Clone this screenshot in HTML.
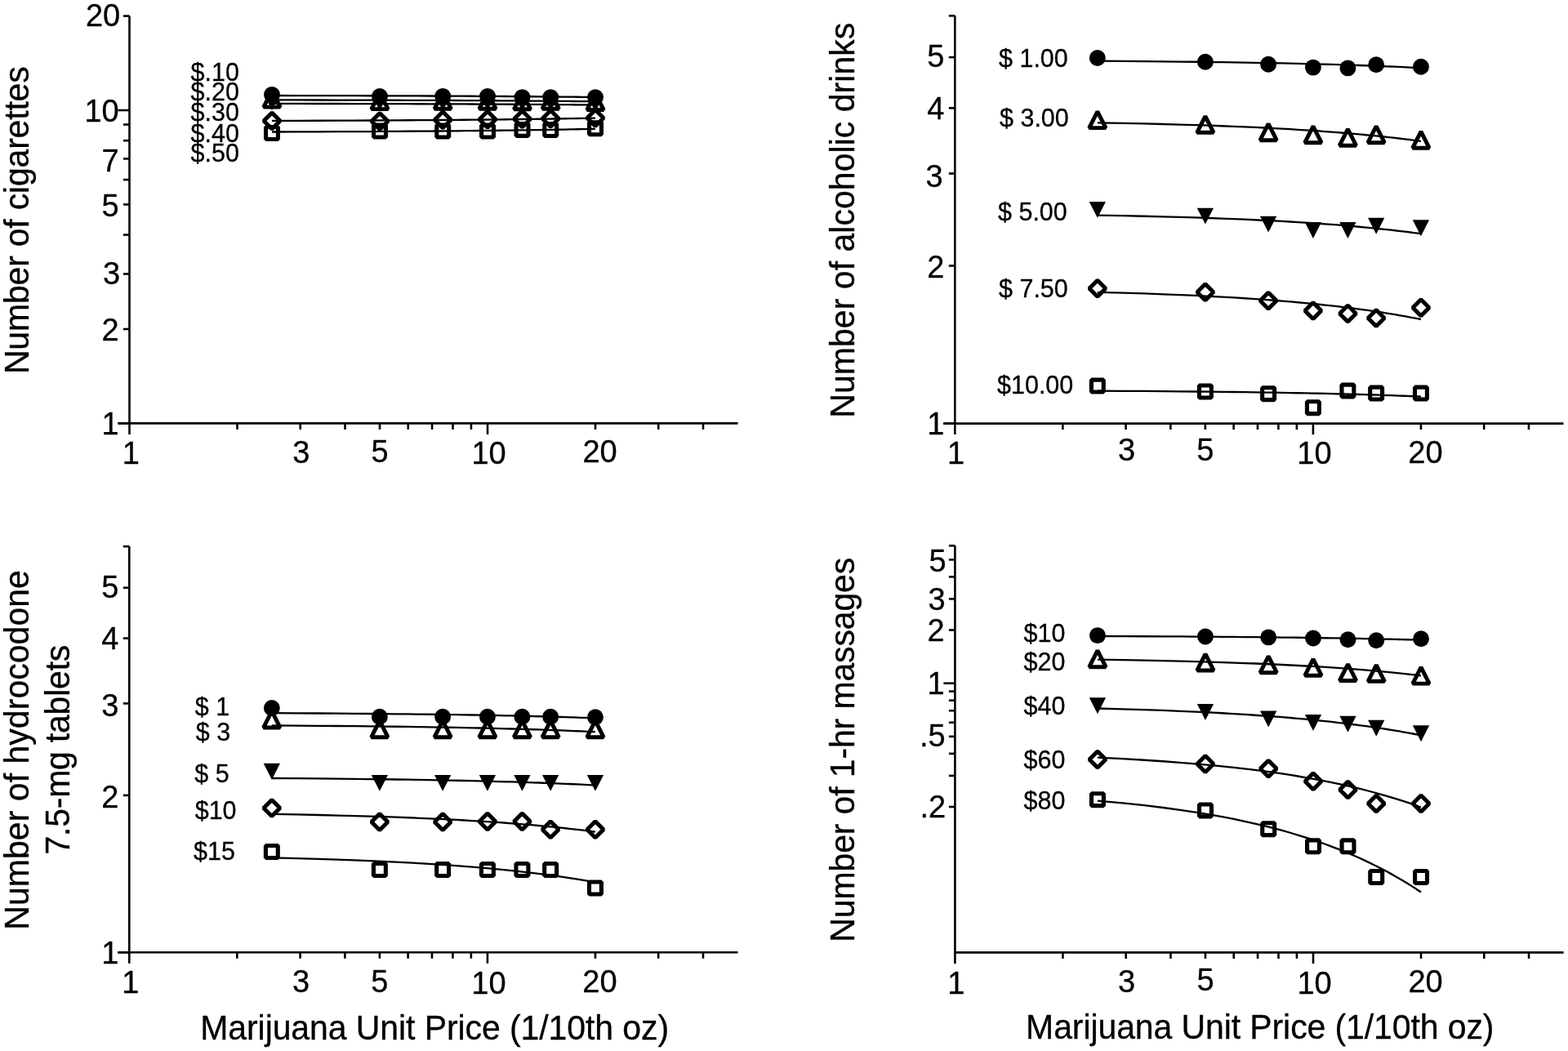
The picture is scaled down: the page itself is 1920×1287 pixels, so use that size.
<!DOCTYPE html>
<html><head><meta charset="utf-8"><title>Marijuana unit price cross-price demand</title>
<style>html,body{margin:0;padding:0;background:#fff;overflow:hidden}svg{display:block}</style>
</head><body>
<svg width="1920" height="1287" viewBox="0 0 1920 1287" font-family="'Liberation Sans', Arial, Helvetica, sans-serif"><g stroke="#000" stroke-width="2.6" fill="none"><line x1="158.5" y1="19.59" x2="158.5" y2="531.9"/><line x1="144.5" y1="518.4" x2="903.5" y2="518.4"/><line x1="290.5" y1="518.4" x2="290.5" y2="525.9"/><line x1="367.72" y1="518.4" x2="367.72" y2="525.9"/><line x1="422.5" y1="518.4" x2="422.5" y2="525.9"/><line x1="465" y1="518.4" x2="465" y2="525.9"/><line x1="499.72" y1="518.4" x2="499.72" y2="525.9"/><line x1="529.08" y1="518.4" x2="529.08" y2="525.9"/><line x1="554.5" y1="518.4" x2="554.5" y2="525.9"/><line x1="576.94" y1="518.4" x2="576.94" y2="525.9"/><line x1="729" y1="518.4" x2="729" y2="525.9"/><line x1="806.22" y1="518.4" x2="806.22" y2="525.9"/><line x1="861" y1="518.4" x2="861" y2="525.9"/><line x1="597" y1="518.4" x2="597" y2="531.9"/><line x1="144.5" y1="518.4" x2="158.5" y2="518.4"/><line x1="151" y1="402.99" x2="158.5" y2="402.99"/><line x1="151" y1="335.47" x2="158.5" y2="335.47"/><line x1="151" y1="287.57" x2="158.5" y2="287.57"/><line x1="151" y1="250.41" x2="158.5" y2="250.41"/><line x1="151" y1="220.06" x2="158.5" y2="220.06"/><line x1="151" y1="194.39" x2="158.5" y2="194.39"/><line x1="151" y1="172.16" x2="158.5" y2="172.16"/><line x1="151" y1="152.54" x2="158.5" y2="152.54"/><line x1="144.5" y1="135" x2="158.5" y2="135"/><line x1="151" y1="19.59" x2="158.5" y2="19.59"/></g>
<g font-size="38" fill="#000" stroke="#000" stroke-width="0.3"><text transform="translate(145.7,532) scale(1,1.04)" text-anchor="end">1</text><text transform="translate(145.7,416.59) scale(1,1.04)" text-anchor="end">2</text><text transform="translate(147.2,347.57) scale(1,1.04)" text-anchor="end">3</text><text transform="translate(145.7,265.31) scale(1,1.04)" text-anchor="end">5</text><text transform="translate(145.7,209.99) scale(1,1.04)" text-anchor="end">7</text><text transform="translate(145.7,149.1) scale(1,1.04)" text-anchor="end">10</text><text transform="translate(147.2,31.94) scale(1,1.04)" text-anchor="end">20</text><text transform="translate(160.3,568.4) scale(1,1.04)" text-anchor="middle">1</text><text transform="translate(368.72,567.4) scale(1,1.04)" text-anchor="middle">3</text><text transform="translate(465,565.9) scale(1,1.04)" text-anchor="middle">5</text><text transform="translate(598.5,568.4) scale(1,1.04)" text-anchor="middle">10</text><text transform="translate(734.5,566.4) scale(1,1.04)" text-anchor="middle">20</text></g>
<g font-size="30.5" fill="#000" stroke="#000" stroke-width="0.3"><text transform="translate(233.5,98.6) scale(1,1.04)" xml:space="preserve">$.10</text><text transform="translate(233.5,122.9) scale(1,1.04)" xml:space="preserve">$.20</text><text transform="translate(233.5,147.6) scale(1,1.04)" xml:space="preserve">$.30</text><text transform="translate(233.5,174) scale(1,1.04)" xml:space="preserve">$.40</text><text transform="translate(233.5,197.8) scale(1,1.04)" xml:space="preserve">$.50</text></g>
<g stroke="#000" stroke-width="2.3" fill="none" stroke-linejoin="round"><polyline points="333,117 363.71,117.05 390.15,117.1 413.36,117.15 434.05,117.2 452.71,117.25 469.7,117.3 485.3,117.35 499.72,117.4 513.12,117.45 525.64,117.5 537.39,117.55 548.46,117.6 558.92,117.65 568.83,117.7 578.25,117.75 587.23,117.8 595.81,117.85 604.01,117.9 611.88,117.95 619.43,118 626.7,118.05 633.69,118.1 640.44,118.15 646.96,118.2 653.27,118.25 659.37,118.3 665.28,118.35 671.02,118.4 676.58,118.45 681.99,118.5 687.25,118.55 692.37,118.6 697.35,118.65 702.21,118.7 706.94,118.75 711.56,118.8 716.08,118.85 720.48,118.9 724.79,118.95 729,119"/><polyline points="333,122.4 363.71,122.45 390.15,122.5 413.36,122.54 434.05,122.59 452.71,122.64 469.7,122.69 485.3,122.73 499.72,122.78 513.12,122.83 525.64,122.88 537.39,122.92 548.46,122.97 558.92,123.02 568.83,123.06 578.25,123.11 587.23,123.16 595.81,123.21 604.01,123.25 611.88,123.3 619.43,123.35 626.7,123.4 633.69,123.45 640.44,123.49 646.96,123.54 653.27,123.59 659.37,123.64 665.28,123.68 671.02,123.73 676.58,123.78 681.99,123.83 687.25,123.87 692.37,123.92 697.35,123.97 702.21,124.02 706.94,124.06 711.56,124.11 716.08,124.16 720.48,124.2 724.79,124.25 729,124.3"/><polyline points="333,126.9 363.71,126.94 390.15,126.98 413.36,127.02 434.05,127.06 452.71,127.1 469.7,127.14 485.3,127.18 499.72,127.22 513.12,127.26 525.64,127.3 537.39,127.34 548.46,127.38 558.92,127.42 568.83,127.46 578.25,127.5 587.23,127.54 595.81,127.58 604.01,127.62 611.88,127.66 619.43,127.7 626.7,127.74 633.69,127.78 640.44,127.82 646.96,127.86 653.27,127.9 659.37,127.94 665.28,127.98 671.02,128.02 676.58,128.06 681.99,128.1 687.25,128.14 692.37,128.18 697.35,128.22 702.21,128.26 706.94,128.3 711.56,128.34 716.08,128.38 720.48,128.42 724.79,128.46 729,128.5"/><polyline points="333,147.9 363.71,147.82 390.15,147.74 413.36,147.65 434.05,147.57 452.71,147.49 469.7,147.41 485.3,147.32 499.72,147.24 513.12,147.16 525.64,147.07 537.39,146.99 548.46,146.91 558.92,146.83 568.83,146.75 578.25,146.66 587.23,146.58 595.81,146.5 604.01,146.41 611.88,146.33 619.43,146.25 626.7,146.17 633.69,146.09 640.44,146 646.96,145.92 653.27,145.84 659.37,145.75 665.28,145.67 671.02,145.59 676.58,145.51 681.99,145.43 687.25,145.34 692.37,145.26 697.35,145.18 702.21,145.09 706.94,145.01 711.56,144.93 716.08,144.85 720.48,144.76 724.79,144.68 729,144.6"/><polyline points="333,161.5 363.71,161.41 390.15,161.31 413.36,161.22 434.05,161.13 452.71,161.04 469.7,160.94 485.3,160.85 499.72,160.76 513.12,160.67 525.64,160.57 537.39,160.48 548.46,160.39 558.92,160.3 568.83,160.21 578.25,160.11 587.23,160.02 595.81,159.93 604.01,159.84 611.88,159.74 619.43,159.65 626.7,159.56 633.69,159.47 640.44,159.37 646.96,159.28 653.27,159.19 659.37,159.09 665.28,159 671.02,158.91 676.58,158.82 681.99,158.73 687.25,158.63 692.37,158.54 697.35,158.45 702.21,158.36 706.94,158.26 711.56,158.17 716.08,158.08 720.48,157.99 724.79,157.89 729,157.8"/></g>
<circle cx="333" cy="115.9" r="9.95" fill="#000"/><circle cx="465" cy="118" r="9.95" fill="#000"/><circle cx="542.21" cy="117.9" r="9.95" fill="#000"/><circle cx="597" cy="117.9" r="9.95" fill="#000"/><circle cx="639.5" cy="119.1" r="9.95" fill="#000"/><circle cx="674.22" cy="119.1" r="9.95" fill="#000"/><circle cx="729" cy="119.1" r="9.95" fill="#000"/><path d="M333,111.11L343.16,131.13H322.84Z" fill="none" stroke="#000" stroke-width="4.93" stroke-linejoin="bevel"/><path d="M465,113.61L475.16,133.63H454.84Z" fill="none" stroke="#000" stroke-width="4.93" stroke-linejoin="bevel"/><path d="M542.21,113.21L552.37,133.23H532.05Z" fill="none" stroke="#000" stroke-width="4.93" stroke-linejoin="bevel"/><path d="M597,113.21L607.16,133.23H586.84Z" fill="none" stroke="#000" stroke-width="4.93" stroke-linejoin="bevel"/><path d="M639.5,113.81L649.66,133.83H629.34Z" fill="none" stroke="#000" stroke-width="4.93" stroke-linejoin="bevel"/><path d="M674.22,113.21L684.38,133.23H664.06Z" fill="none" stroke="#000" stroke-width="4.93" stroke-linejoin="bevel"/><path d="M729,114.41L739.16,134.43H718.84Z" fill="none" stroke="#000" stroke-width="4.93" stroke-linejoin="bevel"/><path d="M322.85,115.05H343.15L333,134.95Z" fill="#000"/><path d="M454.85,115.55H475.15L465,135.45Z" fill="#000"/><path d="M532.06,115.55H552.36L542.21,135.45Z" fill="#000"/><path d="M586.85,115.55H607.15L597,135.45Z" fill="#000"/><path d="M629.35,116.05H649.65L639.5,135.95Z" fill="#000"/><path d="M664.07,116.05H684.37L674.22,135.95Z" fill="#000"/><path d="M718.85,117.05H739.15L729,136.95Z" fill="#000"/><path d="M333,138L343,148L333,158L323,148Z" fill="none" stroke="#000" stroke-width="5" stroke-linejoin="bevel"/><path d="M465,138.6L475,148.6L465,158.6L455,148.6Z" fill="none" stroke="#000" stroke-width="5" stroke-linejoin="bevel"/><path d="M542.21,136.7L552.21,146.7L542.21,156.7L532.21,146.7Z" fill="none" stroke="#000" stroke-width="5" stroke-linejoin="bevel"/><path d="M597,136.2L607,146.2L597,156.2L587,146.2Z" fill="none" stroke="#000" stroke-width="5" stroke-linejoin="bevel"/><path d="M639.5,135.7L649.5,145.7L639.5,155.7L629.5,145.7Z" fill="none" stroke="#000" stroke-width="5" stroke-linejoin="bevel"/><path d="M674.22,135.2L684.22,145.2L674.22,155.2L664.22,145.2Z" fill="none" stroke="#000" stroke-width="5" stroke-linejoin="bevel"/><path d="M729,134.5L739,144.5L729,154.5L719,144.5Z" fill="none" stroke="#000" stroke-width="5" stroke-linejoin="bevel"/><path d="M325.55,155.55H340.45V170.45H325.55Z" fill="none" stroke="#000" stroke-width="5.1" stroke-linejoin="bevel"/><path d="M457.55,153.05H472.45V167.95H457.55Z" fill="none" stroke="#000" stroke-width="5.1" stroke-linejoin="bevel"/><path d="M534.76,153.15H549.66V168.05H534.76Z" fill="none" stroke="#000" stroke-width="5.1" stroke-linejoin="bevel"/><path d="M589.55,153.15H604.45V168.05H589.55Z" fill="none" stroke="#000" stroke-width="5.1" stroke-linejoin="bevel"/><path d="M632.05,151.45H646.95V166.35H632.05Z" fill="none" stroke="#000" stroke-width="5.1" stroke-linejoin="bevel"/><path d="M666.77,151.55H681.67V166.45H666.77Z" fill="none" stroke="#000" stroke-width="5.1" stroke-linejoin="bevel"/><path d="M721.55,149.85H736.45V164.75H721.55Z" fill="none" stroke="#000" stroke-width="5.1" stroke-linejoin="bevel"/>
<g stroke="#000" stroke-width="2.6" fill="none"><line x1="1169.3" y1="19.34" x2="1169.3" y2="532.1"/><line x1="1155.3" y1="518.6" x2="1914.47" y2="518.6"/><line x1="1301.33" y1="518.6" x2="1301.33" y2="526.1"/><line x1="1378.57" y1="518.6" x2="1378.57" y2="526.1"/><line x1="1433.36" y1="518.6" x2="1433.36" y2="526.1"/><line x1="1475.87" y1="518.6" x2="1475.87" y2="526.1"/><line x1="1510.6" y1="518.6" x2="1510.6" y2="526.1"/><line x1="1539.96" y1="518.6" x2="1539.96" y2="526.1"/><line x1="1565.4" y1="518.6" x2="1565.4" y2="526.1"/><line x1="1587.83" y1="518.6" x2="1587.83" y2="526.1"/><line x1="1739.93" y1="518.6" x2="1739.93" y2="526.1"/><line x1="1817.17" y1="518.6" x2="1817.17" y2="526.1"/><line x1="1871.96" y1="518.6" x2="1871.96" y2="526.1"/><line x1="1607.9" y1="518.6" x2="1607.9" y2="532.1"/><line x1="1155.3" y1="518.6" x2="1169.3" y2="518.6"/><line x1="1161.8" y1="325.46" x2="1169.3" y2="325.46"/><line x1="1161.8" y1="212.48" x2="1169.3" y2="212.48"/><line x1="1161.8" y1="132.32" x2="1169.3" y2="132.32"/><line x1="1161.8" y1="70.14" x2="1169.3" y2="70.14"/><line x1="1161.8" y1="19.34" x2="1169.3" y2="19.34"/></g>
<g font-size="38" fill="#000" stroke="#000" stroke-width="0.3"><text transform="translate(1156.5,532.2) scale(1,1.04)" text-anchor="end">1</text><text transform="translate(1156.5,340.36) scale(1,1.04)" text-anchor="end">2</text><text transform="translate(1154.7,228.78) scale(1,1.04)" text-anchor="end">3</text><text transform="translate(1156.5,145.92) scale(1,1.04)" text-anchor="end">4</text><text transform="translate(1156.5,82.24) scale(1,1.04)" text-anchor="end">5</text><text transform="translate(1170.6,567.6) scale(1,1.04)" text-anchor="middle">1</text><text transform="translate(1379.57,563.9) scale(1,1.04)" text-anchor="middle">3</text><text transform="translate(1475.87,564) scale(1,1.04)" text-anchor="middle">5</text><text transform="translate(1609.4,567.6) scale(1,1.04)" text-anchor="middle">10</text><text transform="translate(1745.43,567.3) scale(1,1.04)" text-anchor="middle">20</text></g>
<g font-size="30.5" fill="#000" stroke="#000" stroke-width="0.3"><text transform="translate(1223,81.7) scale(1,1.04)" xml:space="preserve">$ 1.00</text><text transform="translate(1224,155.3) scale(1,1.04)" xml:space="preserve">$ 3.00</text><text transform="translate(1222,269.5) scale(1,1.04)" xml:space="preserve">$ 5.00</text><text transform="translate(1223,363.5) scale(1,1.04)" xml:space="preserve">$ 7.50</text><text transform="translate(1221,482.2) scale(1,1.04)" xml:space="preserve">$10.00</text></g>
<g stroke="#000" stroke-width="2.3" fill="none" stroke-linejoin="round"><polyline points="1343.84,74.7 1374.56,74.91 1401,75.12 1424.22,75.34 1444.91,75.55 1463.57,75.76 1480.57,75.98 1496.18,76.19 1510.6,76.4 1524,76.61 1536.53,76.83 1548.28,77.04 1559.35,77.25 1569.81,77.46 1579.72,77.67 1589.15,77.89 1598.13,78.1 1606.71,78.31 1614.91,78.53 1622.78,78.74 1630.34,78.95 1637.6,79.16 1644.6,79.38 1651.35,79.59 1657.88,79.8 1664.18,80.01 1670.28,80.23 1676.2,80.44 1681.93,80.65 1687.5,80.86 1692.91,81.08 1698.17,81.29 1703.29,81.5 1708.27,81.71 1713.13,81.92 1717.87,82.14 1722.49,82.35 1727,82.56 1731.41,82.78 1735.72,82.99 1739.93,83.2"/><polyline points="1343.84,150.3 1374.56,150.87 1401,151.43 1424.22,152 1444.91,152.56 1463.57,153.12 1480.57,153.69 1496.18,154.26 1510.6,154.82 1524,155.39 1536.53,155.95 1548.28,156.52 1559.35,157.08 1569.81,157.65 1579.72,158.21 1589.15,158.78 1598.13,159.34 1606.71,159.91 1614.91,160.47 1622.78,161.03 1630.34,161.6 1637.6,162.17 1644.6,162.73 1651.35,163.3 1657.88,163.86 1664.18,164.43 1670.28,164.99 1676.2,165.56 1681.93,166.12 1687.5,166.69 1692.91,167.25 1698.17,167.81 1703.29,168.38 1708.27,168.94 1713.13,169.51 1717.87,170.08 1722.49,170.64 1727,171.21 1731.41,171.77 1735.72,172.34 1739.93,172.9"/><polyline points="1343.84,263.6 1374.56,264.17 1401,264.73 1424.22,265.3 1444.91,265.86 1463.57,266.43 1480.57,266.99 1496.18,267.56 1510.6,268.12 1524,268.69 1536.53,269.25 1548.28,269.81 1559.35,270.38 1569.81,270.94 1579.72,271.51 1589.15,272.07 1598.13,272.64 1606.71,273.2 1614.91,273.77 1622.78,274.33 1630.34,274.9 1637.6,275.47 1644.6,276.03 1651.35,276.6 1657.88,277.16 1664.18,277.73 1670.28,278.29 1676.2,278.86 1681.93,279.42 1687.5,279.99 1692.91,280.55 1698.17,281.12 1703.29,281.68 1708.27,282.25 1713.13,282.81 1717.87,283.38 1722.49,283.94 1727,284.5 1731.41,285.07 1735.72,285.63 1739.93,286.2"/><polyline points="1343.84,357.8 1374.56,358.63 1401,359.46 1424.22,360.29 1444.91,361.12 1463.57,361.95 1480.57,362.78 1496.18,363.61 1510.6,364.44 1524,365.27 1536.53,366.1 1548.28,366.93 1559.35,367.76 1569.81,368.59 1579.72,369.42 1589.15,370.25 1598.13,371.08 1606.71,371.91 1614.91,372.74 1622.78,373.57 1630.34,374.4 1637.6,375.23 1644.6,376.06 1651.35,376.89 1657.88,377.72 1664.18,378.55 1670.28,379.38 1676.2,380.21 1681.93,381.04 1687.5,381.87 1692.91,382.7 1698.17,383.53 1703.29,384.36 1708.27,385.19 1713.13,386.02 1717.87,386.85 1722.49,387.68 1727,388.51 1731.41,389.34 1735.72,390.17 1739.93,391"/><polyline points="1343.84,478.6 1374.56,478.78 1401,478.95 1424.22,479.12 1444.91,479.3 1463.57,479.48 1480.57,479.65 1496.18,479.83 1510.6,480 1524,480.18 1536.53,480.35 1548.28,480.53 1559.35,480.7 1569.81,480.88 1579.72,481.05 1589.15,481.23 1598.13,481.4 1606.71,481.58 1614.91,481.75 1622.78,481.93 1630.34,482.1 1637.6,482.28 1644.6,482.45 1651.35,482.62 1657.88,482.8 1664.18,482.98 1670.28,483.15 1676.2,483.33 1681.93,483.5 1687.5,483.68 1692.91,483.85 1698.17,484.03 1703.29,484.2 1708.27,484.38 1713.13,484.55 1717.87,484.73 1722.49,484.9 1727,485.08 1731.41,485.25 1735.72,485.43 1739.93,485.6"/></g>
<circle cx="1343.84" cy="71" r="9.95" fill="#000"/><circle cx="1475.87" cy="75.8" r="9.95" fill="#000"/><circle cx="1553.1" cy="78.8" r="9.95" fill="#000"/><circle cx="1607.9" cy="82.6" r="9.95" fill="#000"/><circle cx="1650.4" cy="83.4" r="9.95" fill="#000"/><circle cx="1685.13" cy="79.3" r="9.95" fill="#000"/><circle cx="1739.93" cy="81.8" r="9.95" fill="#000"/><path d="M1343.84,136.61L1354,156.63H1333.68Z" fill="none" stroke="#000" stroke-width="4.93" stroke-linejoin="bevel"/><path d="M1475.87,142.31L1486.03,162.33H1465.71Z" fill="none" stroke="#000" stroke-width="4.93" stroke-linejoin="bevel"/><path d="M1553.1,151.71L1563.26,171.73H1542.94Z" fill="none" stroke="#000" stroke-width="4.93" stroke-linejoin="bevel"/><path d="M1607.9,154.71L1618.06,174.73H1597.74Z" fill="none" stroke="#000" stroke-width="4.93" stroke-linejoin="bevel"/><path d="M1650.4,158.21L1660.56,178.23H1640.24Z" fill="none" stroke="#000" stroke-width="4.93" stroke-linejoin="bevel"/><path d="M1685.13,154.71L1695.29,174.73H1674.97Z" fill="none" stroke="#000" stroke-width="4.93" stroke-linejoin="bevel"/><path d="M1739.93,161.21L1750.09,181.23H1729.77Z" fill="none" stroke="#000" stroke-width="4.93" stroke-linejoin="bevel"/><path d="M1333.69,246.95H1353.99L1343.84,266.85Z" fill="#000"/><path d="M1465.72,254.65H1486.02L1475.87,274.55Z" fill="#000"/><path d="M1542.95,264.65H1563.25L1553.1,284.55Z" fill="#000"/><path d="M1597.75,272.05H1618.05L1607.9,291.95Z" fill="#000"/><path d="M1640.25,272.05H1660.55L1650.4,291.95Z" fill="#000"/><path d="M1674.98,266.75H1695.28L1685.13,286.65Z" fill="#000"/><path d="M1729.78,269.35H1750.08L1739.93,289.25Z" fill="#000"/><path d="M1343.84,343.2L1353.84,353.2L1343.84,363.2L1333.84,353.2Z" fill="none" stroke="#000" stroke-width="5" stroke-linejoin="bevel"/><path d="M1475.87,347.8L1485.87,357.8L1475.87,367.8L1465.87,357.8Z" fill="none" stroke="#000" stroke-width="5" stroke-linejoin="bevel"/><path d="M1553.1,358.3L1563.1,368.3L1553.1,378.3L1543.1,368.3Z" fill="none" stroke="#000" stroke-width="5" stroke-linejoin="bevel"/><path d="M1607.9,370.4L1617.9,380.4L1607.9,390.4L1597.9,380.4Z" fill="none" stroke="#000" stroke-width="5" stroke-linejoin="bevel"/><path d="M1650.4,374L1660.4,384L1650.4,394L1640.4,384Z" fill="none" stroke="#000" stroke-width="5" stroke-linejoin="bevel"/><path d="M1685.13,379.5L1695.13,389.5L1685.13,399.5L1675.13,389.5Z" fill="none" stroke="#000" stroke-width="5" stroke-linejoin="bevel"/><path d="M1739.93,366.8L1749.93,376.8L1739.93,386.8L1729.93,376.8Z" fill="none" stroke="#000" stroke-width="5" stroke-linejoin="bevel"/><path d="M1336.39,465.15H1351.29V480.05H1336.39Z" fill="none" stroke="#000" stroke-width="5.1" stroke-linejoin="bevel"/><path d="M1468.42,472.05H1483.32V486.95H1468.42Z" fill="none" stroke="#000" stroke-width="5.1" stroke-linejoin="bevel"/><path d="M1545.65,474.75H1560.55V489.65H1545.65Z" fill="none" stroke="#000" stroke-width="5.1" stroke-linejoin="bevel"/><path d="M1600.45,491.75H1615.35V506.65H1600.45Z" fill="none" stroke="#000" stroke-width="5.1" stroke-linejoin="bevel"/><path d="M1642.95,471.15H1657.85V486.05H1642.95Z" fill="none" stroke="#000" stroke-width="5.1" stroke-linejoin="bevel"/><path d="M1677.68,474.15H1692.58V489.05H1677.68Z" fill="none" stroke="#000" stroke-width="5.1" stroke-linejoin="bevel"/><path d="M1732.48,474.15H1747.38V489.05H1732.48Z" fill="none" stroke="#000" stroke-width="5.1" stroke-linejoin="bevel"/>
<g stroke="#000" stroke-width="2.6" fill="none"><line x1="158.3" y1="669.12" x2="158.3" y2="1179.7"/><line x1="144.3" y1="1166.2" x2="903.47" y2="1166.2"/><line x1="290.33" y1="1166.2" x2="290.33" y2="1173.7"/><line x1="367.57" y1="1166.2" x2="367.57" y2="1173.7"/><line x1="422.36" y1="1166.2" x2="422.36" y2="1173.7"/><line x1="464.87" y1="1166.2" x2="464.87" y2="1173.7"/><line x1="499.6" y1="1166.2" x2="499.6" y2="1173.7"/><line x1="528.96" y1="1166.2" x2="528.96" y2="1173.7"/><line x1="554.4" y1="1166.2" x2="554.4" y2="1173.7"/><line x1="576.83" y1="1166.2" x2="576.83" y2="1173.7"/><line x1="728.93" y1="1166.2" x2="728.93" y2="1173.7"/><line x1="806.17" y1="1166.2" x2="806.17" y2="1173.7"/><line x1="860.96" y1="1166.2" x2="860.96" y2="1173.7"/><line x1="596.9" y1="1166.2" x2="596.9" y2="1179.7"/><line x1="144.3" y1="1166.2" x2="158.3" y2="1166.2"/><line x1="150.8" y1="973.9" x2="158.3" y2="973.9"/><line x1="150.8" y1="861.41" x2="158.3" y2="861.41"/><line x1="150.8" y1="781.6" x2="158.3" y2="781.6"/><line x1="150.8" y1="719.7" x2="158.3" y2="719.7"/><line x1="150.8" y1="669.12" x2="158.3" y2="669.12"/></g>
<g font-size="38" fill="#000" stroke="#000" stroke-width="0.3"><text transform="translate(145.5,1179.8) scale(1,1.04)" text-anchor="end">1</text><text transform="translate(145.5,988.5) scale(1,1.04)" text-anchor="end">2</text><text transform="translate(145.5,877.01) scale(1,1.04)" text-anchor="end">3</text><text transform="translate(145.5,795.2) scale(1,1.04)" text-anchor="end">4</text><text transform="translate(145.5,731.8) scale(1,1.04)" text-anchor="end">5</text><text transform="translate(159.8,1216.2) scale(1,1.04)" text-anchor="middle">1</text><text transform="translate(368.57,1215.2) scale(1,1.04)" text-anchor="middle">3</text><text transform="translate(464.87,1215.2) scale(1,1.04)" text-anchor="middle">5</text><text transform="translate(598.4,1217.2) scale(1,1.04)" text-anchor="middle">10</text><text transform="translate(734.43,1215.2) scale(1,1.04)" text-anchor="middle">20</text></g>
<g font-size="30.5" fill="#000" stroke="#000" stroke-width="0.3"><text transform="translate(238.7,876.2) scale(1,1.04)" xml:space="preserve">$ 1</text><text transform="translate(239.8,907.3) scale(1,1.04)" xml:space="preserve">$ 3</text><text transform="translate(238.2,958.3) scale(1,1.04)" xml:space="preserve">$ 5</text><text transform="translate(238.7,1003) scale(1,1.04)" xml:space="preserve">$10</text><text transform="translate(237,1053) scale(1,1.04)" xml:space="preserve">$15</text></g>
<g stroke="#000" stroke-width="2.3" fill="none" stroke-linejoin="round"><polyline points="332.84,873.2 363.56,873.36 390,873.51 413.22,873.67 433.91,873.82 452.57,873.98 469.57,874.13 485.18,874.29 499.6,874.44 513,874.6 525.53,874.75 537.28,874.9 548.35,875.06 558.81,875.22 568.72,875.37 578.15,875.52 587.13,875.68 595.71,875.84 603.91,875.99 611.78,876.14 619.34,876.3 626.6,876.46 633.6,876.61 640.35,876.76 646.88,876.92 653.18,877.08 659.28,877.23 665.2,877.38 670.93,877.54 676.5,877.7 681.91,877.85 687.17,878 692.29,878.16 697.27,878.31 702.13,878.47 706.87,878.62 711.49,878.78 716,878.93 720.41,879.09 724.72,879.25 728.93,879.4"/><polyline points="332.84,888.4 363.56,888.6 390,888.79 413.22,888.99 433.91,889.18 452.57,889.38 469.57,889.57 485.18,889.76 499.6,889.96 513,890.15 525.53,890.35 537.28,890.54 548.35,890.74 558.81,890.93 568.72,891.13 578.15,891.33 587.13,891.52 595.71,891.72 603.91,891.91 611.78,892.11 619.34,892.3 626.6,892.5 633.6,892.69 640.35,892.88 646.88,893.08 653.18,893.27 659.28,893.47 665.2,893.67 670.93,893.86 676.5,894.06 681.91,894.25 687.17,894.45 692.29,894.64 697.27,894.84 702.13,895.03 706.87,895.23 711.49,895.42 716,895.62 720.41,895.81 724.72,896 728.93,896.2"/><polyline points="332.84,953 363.56,953.21 390,953.42 413.22,953.64 433.91,953.85 452.57,954.06 469.57,954.27 485.18,954.49 499.6,954.7 513,954.91 525.53,955.12 537.28,955.34 548.35,955.55 558.81,955.76 568.72,955.98 578.15,956.19 587.13,956.4 595.71,956.61 603.91,956.83 611.78,957.04 619.34,957.25 626.6,957.46 633.6,957.67 640.35,957.89 646.88,958.1 653.18,958.31 659.28,958.52 665.2,958.74 670.93,958.95 676.5,959.16 681.91,959.38 687.17,959.59 692.29,959.8 697.27,960.01 702.13,960.23 706.87,960.44 711.49,960.65 716,960.86 720.41,961.08 724.72,961.29 728.93,961.5"/><polyline points="332.84,996.9 363.56,997.44 390,997.99 413.22,998.53 433.91,999.07 452.57,999.61 469.57,1000.15 485.18,1000.7 499.6,1001.24 513,1001.78 525.53,1002.33 537.28,1002.87 548.35,1003.41 558.81,1003.95 568.72,1004.5 578.15,1005.04 587.13,1005.58 595.71,1006.12 603.91,1006.66 611.78,1007.21 619.34,1007.75 626.6,1008.29 633.6,1008.84 640.35,1009.38 646.88,1009.92 653.18,1010.46 659.28,1011 665.2,1011.55 670.93,1012.09 676.5,1012.63 681.91,1013.17 687.17,1013.72 692.29,1014.26 697.27,1014.8 702.13,1015.35 706.87,1015.89 711.49,1016.43 716,1016.97 720.41,1017.51 724.72,1018.06 728.93,1018.6"/><polyline points="332.84,1050.3 363.56,1051.05 390,1051.81 413.22,1052.56 433.91,1053.31 452.57,1054.06 469.57,1054.82 485.18,1055.57 499.6,1056.32 513,1057.07 525.53,1057.83 537.28,1058.58 548.35,1059.33 558.81,1060.08 568.72,1060.84 578.15,1061.59 587.13,1062.34 595.71,1063.09 603.91,1063.85 611.78,1064.6 619.34,1065.35 626.6,1066.1 633.6,1066.86 640.35,1067.61 646.88,1068.36 653.18,1069.11 659.28,1069.87 665.2,1070.62 670.93,1071.37 676.5,1072.12 681.91,1072.88 687.17,1073.63 692.29,1074.38 697.27,1075.13 702.13,1075.88 706.87,1076.64 711.49,1077.39 716,1078.14 720.41,1078.89 724.72,1079.65 728.93,1080.4"/></g>
<circle cx="332.84" cy="867" r="9.95" fill="#000"/><circle cx="464.87" cy="877.7" r="9.95" fill="#000"/><circle cx="542.1" cy="877.7" r="9.95" fill="#000"/><circle cx="596.9" cy="877.7" r="9.95" fill="#000"/><circle cx="639.4" cy="877.7" r="9.95" fill="#000"/><circle cx="674.13" cy="877.7" r="9.95" fill="#000"/><circle cx="728.93" cy="878.3" r="9.95" fill="#000"/><path d="M332.84,870.91L343,890.93H322.68Z" fill="none" stroke="#000" stroke-width="4.93" stroke-linejoin="bevel"/><path d="M464.87,882.71L475.03,902.73H454.71Z" fill="none" stroke="#000" stroke-width="4.93" stroke-linejoin="bevel"/><path d="M542.1,882.71L552.26,902.73H531.94Z" fill="none" stroke="#000" stroke-width="4.93" stroke-linejoin="bevel"/><path d="M596.9,882.71L607.06,902.73H586.74Z" fill="none" stroke="#000" stroke-width="4.93" stroke-linejoin="bevel"/><path d="M639.4,882.71L649.56,902.73H629.24Z" fill="none" stroke="#000" stroke-width="4.93" stroke-linejoin="bevel"/><path d="M674.13,882.71L684.29,902.73H663.97Z" fill="none" stroke="#000" stroke-width="4.93" stroke-linejoin="bevel"/><path d="M728.93,882.71L739.09,902.73H718.77Z" fill="none" stroke="#000" stroke-width="4.93" stroke-linejoin="bevel"/><path d="M322.69,934.75H342.99L332.84,954.65Z" fill="#000"/><path d="M454.72,948.95H475.02L464.87,968.85Z" fill="#000"/><path d="M531.95,948.95H552.25L542.1,968.85Z" fill="#000"/><path d="M586.75,948.95H607.05L596.9,968.85Z" fill="#000"/><path d="M629.25,948.95H649.55L639.4,968.85Z" fill="#000"/><path d="M663.98,948.95H684.28L674.13,968.85Z" fill="#000"/><path d="M718.78,948.95H739.08L728.93,968.85Z" fill="#000"/><path d="M332.84,979.6L342.84,989.6L332.84,999.6L322.84,989.6Z" fill="none" stroke="#000" stroke-width="5" stroke-linejoin="bevel"/><path d="M464.87,996.5L474.87,1006.5L464.87,1016.5L454.87,1006.5Z" fill="none" stroke="#000" stroke-width="5" stroke-linejoin="bevel"/><path d="M542.1,996.5L552.1,1006.5L542.1,1016.5L532.1,1006.5Z" fill="none" stroke="#000" stroke-width="5" stroke-linejoin="bevel"/><path d="M596.9,995.9L606.9,1005.9L596.9,1015.9L586.9,1005.9Z" fill="none" stroke="#000" stroke-width="5" stroke-linejoin="bevel"/><path d="M639.4,995.9L649.4,1005.9L639.4,1015.9L629.4,1005.9Z" fill="none" stroke="#000" stroke-width="5" stroke-linejoin="bevel"/><path d="M674.13,1005.8L684.13,1015.8L674.13,1025.8L664.13,1015.8Z" fill="none" stroke="#000" stroke-width="5" stroke-linejoin="bevel"/><path d="M728.93,1005.8L738.93,1015.8L728.93,1025.8L718.93,1015.8Z" fill="none" stroke="#000" stroke-width="5" stroke-linejoin="bevel"/><path d="M325.39,1035.55H340.29V1050.45H325.39Z" fill="none" stroke="#000" stroke-width="5.1" stroke-linejoin="bevel"/><path d="M457.42,1057.55H472.32V1072.45H457.42Z" fill="none" stroke="#000" stroke-width="5.1" stroke-linejoin="bevel"/><path d="M534.65,1057.55H549.55V1072.45H534.65Z" fill="none" stroke="#000" stroke-width="5.1" stroke-linejoin="bevel"/><path d="M589.45,1057.55H604.35V1072.45H589.45Z" fill="none" stroke="#000" stroke-width="5.1" stroke-linejoin="bevel"/><path d="M631.95,1057.55H646.85V1072.45H631.95Z" fill="none" stroke="#000" stroke-width="5.1" stroke-linejoin="bevel"/><path d="M666.68,1057.55H681.58V1072.45H666.68Z" fill="none" stroke="#000" stroke-width="5.1" stroke-linejoin="bevel"/><path d="M721.48,1080.05H736.38V1094.95H721.48Z" fill="none" stroke="#000" stroke-width="5.1" stroke-linejoin="bevel"/>
<g stroke="#000" stroke-width="2.6" fill="none"><line x1="1169.4" y1="668.23" x2="1169.4" y2="1179.9"/><line x1="1169.4" y1="1166.4" x2="1914.57" y2="1166.4"/><line x1="1301.43" y1="1166.4" x2="1301.43" y2="1173.9"/><line x1="1378.67" y1="1166.4" x2="1378.67" y2="1173.9"/><line x1="1433.46" y1="1166.4" x2="1433.46" y2="1173.9"/><line x1="1475.97" y1="1166.4" x2="1475.97" y2="1173.9"/><line x1="1510.7" y1="1166.4" x2="1510.7" y2="1173.9"/><line x1="1540.06" y1="1166.4" x2="1540.06" y2="1173.9"/><line x1="1565.5" y1="1166.4" x2="1565.5" y2="1173.9"/><line x1="1587.93" y1="1166.4" x2="1587.93" y2="1173.9"/><line x1="1740.03" y1="1166.4" x2="1740.03" y2="1173.9"/><line x1="1817.27" y1="1166.4" x2="1817.27" y2="1173.9"/><line x1="1872.06" y1="1166.4" x2="1872.06" y2="1173.9"/><line x1="1608" y1="1166.4" x2="1608" y2="1179.9"/><line x1="1161.9" y1="988.02" x2="1169.4" y2="988.02"/><line x1="1161.9" y1="949.9" x2="1169.4" y2="949.9"/><line x1="1161.9" y1="922.85" x2="1169.4" y2="922.85"/><line x1="1161.9" y1="901.87" x2="1169.4" y2="901.87"/><line x1="1161.9" y1="884.73" x2="1169.4" y2="884.73"/><line x1="1161.9" y1="870.23" x2="1169.4" y2="870.23"/><line x1="1161.9" y1="857.68" x2="1169.4" y2="857.68"/><line x1="1161.9" y1="846.6" x2="1169.4" y2="846.6"/><line x1="1155.4" y1="836.7" x2="1169.4" y2="836.7"/><line x1="1161.9" y1="771.52" x2="1169.4" y2="771.52"/><line x1="1161.9" y1="733.4" x2="1169.4" y2="733.4"/><line x1="1161.9" y1="706.35" x2="1169.4" y2="706.35"/><line x1="1161.9" y1="685.37" x2="1169.4" y2="685.37"/><line x1="1161.9" y1="668.23" x2="1169.4" y2="668.23"/></g>
<g font-size="38" fill="#000" stroke="#000" stroke-width="0.3"><text transform="translate(1158.1,1000.62) scale(1,1.04)" text-anchor="end">.2</text><text transform="translate(1157.6,914.47) scale(1,1.04)" text-anchor="end">.5</text><text transform="translate(1156.6,850.3) scale(1,1.04)" text-anchor="end">1</text><text transform="translate(1156.6,785.12) scale(1,1.04)" text-anchor="end">2</text><text transform="translate(1157.6,747) scale(1,1.04)" text-anchor="end">3</text><text transform="translate(1158.6,700.47) scale(1,1.04)" text-anchor="end">5</text><text transform="translate(1170.7,1216.9) scale(1,1.04)" text-anchor="middle">1</text><text transform="translate(1379.67,1215.4) scale(1,1.04)" text-anchor="middle">3</text><text transform="translate(1475.97,1213.4) scale(1,1.04)" text-anchor="middle">5</text><text transform="translate(1609.5,1217.1) scale(1,1.04)" text-anchor="middle">10</text><text transform="translate(1745.53,1215.4) scale(1,1.04)" text-anchor="middle">20</text></g>
<g font-size="30.5" fill="#000" stroke="#000" stroke-width="0.3"><text transform="translate(1253.5,786) scale(1,1.04)" xml:space="preserve">$10</text><text transform="translate(1253.5,820.7) scale(1,1.04)" xml:space="preserve">$20</text><text transform="translate(1253.5,875.3) scale(1,1.04)" xml:space="preserve">$40</text><text transform="translate(1253.5,941.2) scale(1,1.04)" xml:space="preserve">$60</text><text transform="translate(1253.5,991.4) scale(1,1.04)" xml:space="preserve">$80</text></g>
<g stroke="#000" stroke-width="2.3" fill="none" stroke-linejoin="round"><polyline points="1343.94,779 1374.66,779.12 1401.1,779.24 1424.32,779.35 1445.01,779.47 1463.67,779.59 1480.67,779.71 1496.28,779.82 1510.7,779.94 1524.1,780.06 1536.63,780.17 1548.38,780.29 1559.45,780.41 1569.91,780.53 1579.82,780.64 1589.25,780.76 1598.23,780.88 1606.81,781 1615.01,781.12 1622.88,781.23 1630.44,781.35 1637.7,781.47 1644.7,781.59 1651.45,781.7 1657.98,781.82 1664.28,781.94 1670.38,782.06 1676.3,782.17 1682.03,782.29 1687.6,782.41 1693.01,782.53 1698.27,782.64 1703.39,782.76 1708.37,782.88 1713.23,783 1717.97,783.11 1722.59,783.23 1727.1,783.35 1731.51,783.47 1735.82,783.58 1740.03,783.7"/><polyline points="1343.94,807.6 1374.66,808.09 1401.1,808.59 1424.32,809.08 1445.01,809.57 1463.67,810.06 1480.67,810.56 1496.28,811.05 1510.7,811.54 1524.1,812.03 1536.63,812.52 1548.38,813.02 1559.45,813.51 1569.91,814 1579.82,814.5 1589.25,814.99 1598.23,815.48 1606.81,815.97 1615.01,816.47 1622.88,816.96 1630.44,817.45 1637.7,817.94 1644.7,818.43 1651.45,818.93 1657.98,819.42 1664.28,819.91 1670.38,820.4 1676.3,820.9 1682.03,821.39 1687.6,821.88 1693.01,822.38 1698.27,822.87 1703.39,823.36 1708.37,823.85 1713.23,824.34 1717.97,824.84 1722.59,825.33 1727.1,825.82 1731.51,826.31 1735.82,826.81 1740.03,827.3"/><polyline points="1343.94,867.5 1374.66,868.32 1401.1,869.14 1424.32,869.97 1445.01,870.79 1463.67,871.61 1480.67,872.43 1496.28,873.26 1510.7,874.08 1524.1,874.9 1536.63,875.73 1548.38,876.55 1559.45,877.37 1569.91,878.19 1579.82,879.01 1589.25,879.84 1598.23,880.66 1606.81,881.48 1615.01,882.3 1622.88,883.13 1630.44,883.95 1637.7,884.77 1644.7,885.6 1651.45,886.42 1657.98,887.24 1664.28,888.06 1670.38,888.88 1676.3,889.71 1682.03,890.53 1687.6,891.35 1693.01,892.17 1698.27,893 1703.39,893.82 1708.37,894.64 1713.23,895.47 1717.97,896.29 1722.59,897.11 1727.1,897.93 1731.51,898.75 1735.82,899.58 1740.03,900.4"/><polyline points="1343.94,927.7 1374.66,929.22 1401.1,930.74 1424.32,932.26 1445.01,933.78 1463.67,935.3 1480.67,936.82 1496.28,938.34 1510.7,939.86 1524.1,941.38 1536.63,942.9 1548.38,944.42 1559.45,945.94 1569.91,947.46 1579.82,948.98 1589.25,950.5 1598.23,952.02 1606.81,953.54 1615.01,955.06 1622.88,956.58 1630.44,958.1 1637.7,959.62 1644.7,961.14 1651.45,962.66 1657.98,964.18 1664.28,965.7 1670.38,967.22 1676.3,968.74 1682.03,970.26 1687.6,971.78 1693.01,973.3 1698.27,974.82 1703.39,976.34 1708.37,977.86 1713.23,979.38 1717.97,980.9 1722.59,982.42 1727.1,983.94 1731.51,985.46 1735.82,986.98 1740.03,988.5"/><polyline points="1343.94,980.6 1374.66,983.4 1401.1,986.2 1424.32,988.99 1445.01,991.79 1463.67,994.59 1480.67,997.38 1496.28,1000.18 1510.7,1002.98 1524.1,1005.78 1536.63,1008.58 1548.38,1011.37 1559.45,1014.17 1569.91,1016.97 1579.82,1019.76 1589.25,1022.56 1598.23,1025.36 1606.81,1028.16 1615.01,1030.95 1622.88,1033.75 1630.44,1036.55 1637.7,1039.35 1644.7,1042.14 1651.45,1044.94 1657.98,1047.74 1664.28,1050.54 1670.38,1053.34 1676.3,1056.13 1682.03,1058.93 1687.6,1061.73 1693.01,1064.53 1698.27,1067.32 1703.39,1070.12 1708.37,1072.92 1713.23,1075.71 1717.97,1078.51 1722.59,1081.31 1727.1,1084.11 1731.51,1086.9 1735.82,1089.7 1740.03,1092.5"/></g>
<circle cx="1343.94" cy="778.1" r="9.95" fill="#000"/><circle cx="1475.97" cy="779.5" r="9.95" fill="#000"/><circle cx="1553.2" cy="780.4" r="9.95" fill="#000"/><circle cx="1608" cy="781.5" r="9.95" fill="#000"/><circle cx="1650.5" cy="783.2" r="9.95" fill="#000"/><circle cx="1685.23" cy="784.3" r="9.95" fill="#000"/><circle cx="1740.03" cy="782.3" r="9.95" fill="#000"/><path d="M1343.94,796.71L1354.1,816.73H1333.78Z" fill="none" stroke="#000" stroke-width="4.93" stroke-linejoin="bevel"/><path d="M1475.97,800.91L1486.13,820.93H1465.81Z" fill="none" stroke="#000" stroke-width="4.93" stroke-linejoin="bevel"/><path d="M1553.2,803.71L1563.36,823.73H1543.04Z" fill="none" stroke="#000" stroke-width="4.93" stroke-linejoin="bevel"/><path d="M1608,807.21L1618.16,827.23H1597.84Z" fill="none" stroke="#000" stroke-width="4.93" stroke-linejoin="bevel"/><path d="M1650.5,813.41L1660.66,833.43H1640.34Z" fill="none" stroke="#000" stroke-width="4.93" stroke-linejoin="bevel"/><path d="M1685.23,814.31L1695.39,834.33H1675.07Z" fill="none" stroke="#000" stroke-width="4.93" stroke-linejoin="bevel"/><path d="M1740.03,817.11L1750.19,837.13H1729.87Z" fill="none" stroke="#000" stroke-width="4.93" stroke-linejoin="bevel"/><path d="M1333.79,854.25H1354.09L1343.94,874.15Z" fill="#000"/><path d="M1465.82,862.05H1486.12L1475.97,881.95Z" fill="#000"/><path d="M1543.05,870.55H1563.35L1553.2,890.45Z" fill="#000"/><path d="M1597.85,875.05H1618.15L1608,894.95Z" fill="#000"/><path d="M1640.35,876.75H1660.65L1650.5,896.65Z" fill="#000"/><path d="M1675.08,881.75H1695.38L1685.23,901.65Z" fill="#000"/><path d="M1729.88,888.25H1750.18L1740.03,908.15Z" fill="#000"/><path d="M1343.94,920L1353.94,930L1343.94,940L1333.94,930Z" fill="none" stroke="#000" stroke-width="5" stroke-linejoin="bevel"/><path d="M1475.97,925.6L1485.97,935.6L1475.97,945.6L1465.97,935.6Z" fill="none" stroke="#000" stroke-width="5" stroke-linejoin="bevel"/><path d="M1553.2,931.2L1563.2,941.2L1553.2,951.2L1543.2,941.2Z" fill="none" stroke="#000" stroke-width="5" stroke-linejoin="bevel"/><path d="M1608,946.7L1618,956.7L1608,966.7L1598,956.7Z" fill="none" stroke="#000" stroke-width="5" stroke-linejoin="bevel"/><path d="M1650.5,957.1L1660.5,967.1L1650.5,977.1L1640.5,967.1Z" fill="none" stroke="#000" stroke-width="5" stroke-linejoin="bevel"/><path d="M1685.23,974L1695.23,984L1685.23,994L1675.23,984Z" fill="none" stroke="#000" stroke-width="5" stroke-linejoin="bevel"/><path d="M1740.03,974L1750.03,984L1740.03,994L1730.03,984Z" fill="none" stroke="#000" stroke-width="5" stroke-linejoin="bevel"/><path d="M1336.49,971.75H1351.39V986.65H1336.49Z" fill="none" stroke="#000" stroke-width="5.1" stroke-linejoin="bevel"/><path d="M1468.52,984.95H1483.42V999.85H1468.52Z" fill="none" stroke="#000" stroke-width="5.1" stroke-linejoin="bevel"/><path d="M1545.75,1007.75H1560.65V1022.65H1545.75Z" fill="none" stroke="#000" stroke-width="5.1" stroke-linejoin="bevel"/><path d="M1600.55,1028.85H1615.45V1043.75H1600.55Z" fill="none" stroke="#000" stroke-width="5.1" stroke-linejoin="bevel"/><path d="M1643.05,1028.85H1657.95V1043.75H1643.05Z" fill="none" stroke="#000" stroke-width="5.1" stroke-linejoin="bevel"/><path d="M1677.78,1066.55H1692.68V1081.45H1677.78Z" fill="none" stroke="#000" stroke-width="5.1" stroke-linejoin="bevel"/><path d="M1732.58,1066.55H1747.48V1081.45H1732.58Z" fill="none" stroke="#000" stroke-width="5.1" stroke-linejoin="bevel"/>
<g fill="#000" stroke="#000" stroke-width="0.3"><text transform="translate(34.8,269.67) rotate(-90) scale(1,1.04)" text-anchor="middle" font-size="41" textLength="376.74" lengthAdjust="spacing">Number of cigarettes</text><text transform="translate(1046,269.69) rotate(-90) scale(1,1.04)" text-anchor="middle" font-size="41" textLength="484.01" lengthAdjust="spacing">Number of alcoholic drinks</text><text transform="translate(34.9,918.37) rotate(-90) scale(1,1.04)" text-anchor="middle" font-size="41" textLength="440.6" lengthAdjust="spacing">Number of hydrocodone</text><text transform="translate(84.8,918.15) rotate(-90) scale(1,1.04)" text-anchor="middle" font-size="41" textLength="256.86" lengthAdjust="spacing">7.5-mg tablets</text><text transform="translate(1045.75,918.2) rotate(-90) scale(1,1.04)" text-anchor="middle" font-size="41" textLength="470.95" lengthAdjust="spacing">Number of 1-hr massages</text><text transform="translate(532.18,1272.8) scale(1,1.04)" text-anchor="middle" font-size="41" textLength="573.87" lengthAdjust="spacing">Marijuana Unit Price (1/10th oz)</text><text transform="translate(1542.81,1272) scale(1,1.04)" text-anchor="middle" font-size="41" textLength="573.42" lengthAdjust="spacing">Marijuana Unit Price (1/10th oz)</text></g></svg>
</body></html>
